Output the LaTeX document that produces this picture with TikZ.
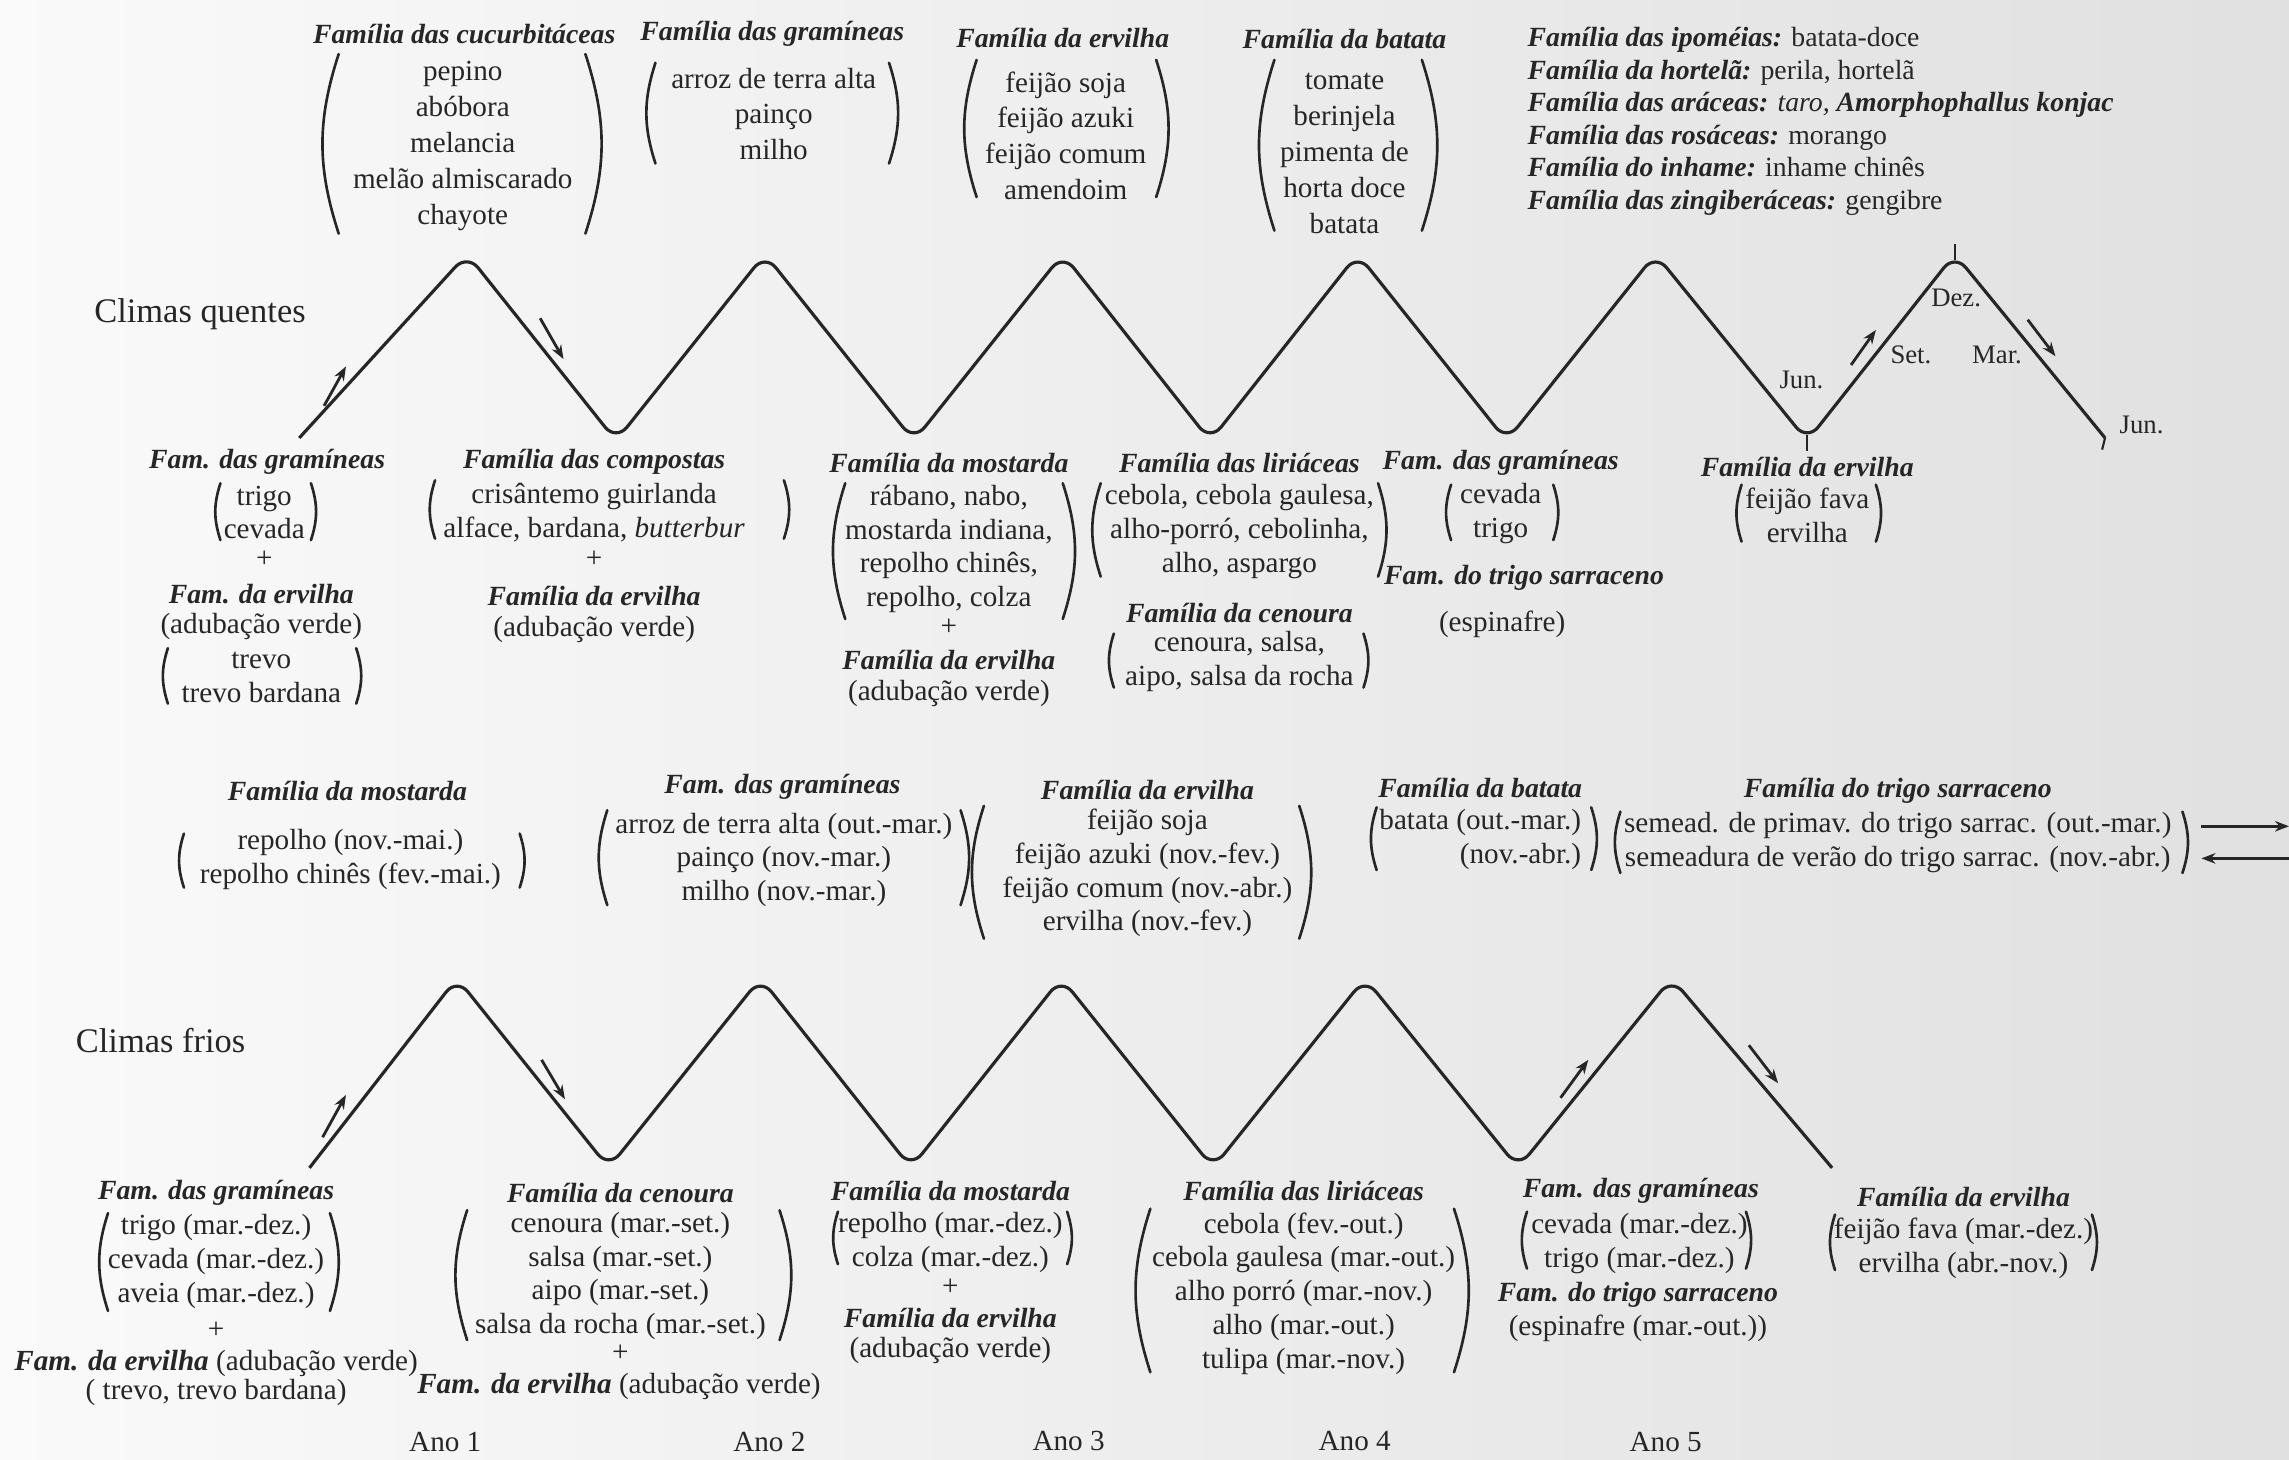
\documentclass[tikz,border=0pt]{standalone}
\usepackage{fontspec}
\setmainfont{Liberation Serif}
\usetikzlibrary{arrows.meta}
\definecolor{ink}{RGB}{38,38,38}
\newcommand{\famname}[1]{\textbf{\textit{#1}}}
% a pair of tall parentheses: x left, x right, y top, y bottom
\newcommand{\parpair}[4]{%
  \draw[par] (#1,#3) to[bend right=18] (#1,#4);
  \draw[par] (#2,#3) to[bend left=18] (#2,#4);}
\tikzset{
  fam/.style={font=\fontsize{7.9}{9.6}\selectfont\bfseries\itshape,inner sep=0pt,text=ink},
  lst/.style={font=\fontsize{8.3}{9.6}\selectfont,align=center,inner sep=0pt,text=ink},
  tall/.style={font=\fontsize{8.3}{10.2}\selectfont},
  clim/.style={font=\fontsize{9.8}{11}\selectfont,inner sep=0pt,text=ink},
  mon/.style={font=\fontsize{7.6}{9}\selectfont,inner sep=0pt,text=ink},
  wave/.style={draw=ink,line width=0.9pt,rounded corners=5pt,line join=round},
  par/.style={draw=ink,line width=0.75pt,line cap=round},
  flow/.style={draw=ink,line width=0.8pt,-{Stealth[length=4pt,width=3pt]}},
  tick/.style={draw=ink,line width=0.6pt}
}
\begin{document}
\begin{tikzpicture}[x=0.146mm,y=-0.146mm]
\useasboundingbox (0,0) rectangle (1568,1000);
\shade[left color=black!2,right color=black!12] (0,0) rectangle (1568,1000);

% warm climates: summer crops
\node[fam] (cucH) at (318,23) {Família das cucurbitáceas};
\node[lst,tall] (cucL) at (317,100) {pepino\\abóbora\\melancia\\melão almiscarado\\chayote};
\parpair{232}{401}{37}{160}
\node[fam] (graH) at (529,23) {Família das gramíneas};
\node[lst,tall] (graL) at (530,78) {arroz de terra alta\\painço\\milho};
\parpair{449}{609}{43}{112}
\node[fam] (ervH) at (728,26) {Família da ervilha};
\node[lst,tall] (ervL) at (730,93) {feijão soja\\feijão azuki\\feijão comum\\amendoim};
\parpair{669}{792}{41}{135}
\node[fam] (batH) at (921,27) {Família da batata};
\node[lst,tall] (batL) at (921,105) {tomate\\berinjela\\pimenta de\\horta doce\\batata};
\parpair{873}{974}{41}{158}
\node[lst,align=left,anchor=west,font=\fontsize{7.9}{9.25}\selectfont] (outL) at (1046,83)
  {\famname{Família das ipoméias:} batata-doce\\
   \famname{Família da hortelã:} perila, hortelã\\
   \famname{Família das aráceas:} \textit{taro,} \famname{Amorphophallus konjac}\\
   \famname{Família das rosáceas:} morango\\
   \famname{Família do inhame:} inhame chinês\\
   \famname{Família das zingiberáceas:} gengibre};

\node[clim] (quente) at (137,215) {Climas quentes};
\draw[wave] (205,300) -- (320,174) -- (422,302) -- (524,174) -- (626,302) -- (728,174)
  -- (829,302) -- (930,174) -- (1032,302) -- (1134,174) -- (1238,302) -- (1339,174) -- (1442,300);
\draw[tick] (1339,178) -- (1339,167);
\draw[tick] (1238,298) -- (1238,309);
\draw[tick] (1442,300) -- (1440,308);
\draw[flow] (222,278) -- (237,251);
\draw[flow] (370,218) -- (386,246);
\draw[flow] (1268,250) -- (1285,226);
\draw[flow] (1389,219) -- (1408,244);
\node[mon] (dez) at (1340,204) {Dez.};
\node[mon] (set) at (1309,243) {Set.};
\node[mon] (mar) at (1368,243) {Mar.};
\node[mon] (jun1) at (1234,260) {Jun.};
\node[mon] (jun2) at (1467,291) {Jun.};

% warm climates: winter crops
\node[fam] (gr1H) at (183,316) {Fam. das gramíneas};
\node[lst] (gr1L) at (181,351) {trigo\\cevada};
\parpair{151}{213}{331}{370}
\node[lst] (plus1) at (181,383) {+};
\node[fam] (gr1E) at (179,407) {Fam. da ervilha};
\node[lst] (gr1V) at (179,429) {(adubação verde)};
\node[lst] (gr1T) at (179,464) {trevo\\trevo bardana};
\parpair{115}{244}{444}{482}
\node[fam] (comH) at (407,316) {Família das compostas};
\node[lst] (comL) at (407,351) {crisântemo guirlanda\\alface, bardana, \textit{butterbur}};
\parpair{298}{537}{329}{369}
\node[lst] (plus2) at (407,383) {+};
\node[fam] (comE) at (407,408) {Família da ervilha};
\node[lst] (comV) at (407,431) {(adubação verde)};
\node[fam] (mosH) at (650,317) {Família da mostarda};
\node[lst] (mosL) at (650,376) {rábano, nabo,\\mostarda indiana,\\repolho chinês,\\repolho, colza};
\parpair{579}{728}{331}{424}
\node[lst] (plus3) at (650,430) {+};
\node[fam] (mosE) at (650,452) {Família da ervilha};
\node[lst] (mosV) at (650,475) {(adubação verde)};
\node[fam] (lirH) at (849,317) {Família das liriáceas};
\node[lst] (lirL) at (849,364) {cebola, cebola gaulesa,\\alho-porró, cebolinha,\\alho, aspargo};
\parpair{754}{944}{331}{395}
\node[fam] (cenH) at (849,420) {Família da cenoura};
\node[lst] (cenL) at (849,453) {cenoura, salsa,\\aipo, salsa da rocha};
\parpair{763}{934}{434}{471}
\node[fam] (gr2H) at (1028,317) {Fam. das gramíneas};
\node[lst] (gr2L) at (1028,352) {cevada\\trigo};
\parpair{994}{1064}{332}{370}
\node[fam] (tr2H) at (1044,396) {Fam. do trigo sarraceno};
\node[lst] (tr2L) at (1029,428) {(espinafre)};
\node[fam] (er2H) at (1238,320) {Família da ervilha};
\node[lst] (er2L) at (1238,353) {feijão fava\\ervilha};
\parpair{1193}{1285}{332}{371}

% cold climates: winter crops
\node[fam] (mo2H) at (238,542) {Família da mostarda};
\node[lst] (mo2L) at (240,589) {repolho (nov.-mai.)\\repolho chinês (fev.-mai.)};
\parpair{126}{356}{571}{608}
\node[fam] (gr3H) at (536,539) {Fam. das gramíneas};
\node[lst] (gr3L) at (537,589) {arroz de terra alta (out.-mar.)\\painço (nov.-mar.)\\milho (nov.-mar.)};
\parpair{416}{658}{555}{620}
\node[fam] (er3H) at (786,541) {Família da ervilha};
\node[lst] (er3L) at (786,598) {feijão soja\\feijão azuki (nov.-fev.)\\feijão comum (nov.-abr.)\\ervilha (nov.-fev.)};
\parpair{674}{890}{552}{643}
\node[fam] (ba2H) at (1014,540) {Família da batata};
\node[lst,align=right] (ba2L) at (1014,575) {batata (out.-mar.)\\(nov.-abr.)};
\parpair{943}{1090}{553}{596}
\node[fam] (tr3H) at (1300,542) {Família do trigo sarraceno};
\node[lst] (tr3L) at (1300,577) {semead. de primav. do trigo sarrac. (out.-mar.)\\semeadura de verão do trigo sarrac. (nov.-abr.)};
\parpair{1110}{1495}{556}{598}
\coordinate (inA) at (1508,566);
\coordinate (inB) at (1568,566);
\coordinate (outA) at (1568,588);
\coordinate (outB) at (1508,588);
\draw[flow] (inA) -- (inB);
\draw[flow] (outA) -- (outB);

% cold climates: summer crops
\node[clim] (frio) at (110,713) {Climas frios};
\draw[wave] (212,800) -- (313,670) -- (417,800) -- (521,670) -- (624,800) -- (727,670)
  -- (831,800) -- (935,670) -- (1040,800) -- (1145,670) -- (1255,800);
\draw[flow] (221,779) -- (237,750);
\draw[flow] (371,726) -- (387,753);
\draw[flow] (1069,752) -- (1088,726);
\draw[flow] (1198,716) -- (1218,742);

\node[fam] (gr4H) at (148,817) {Fam. das gramíneas};
\node[lst] (gr4L) at (148,864) {trigo (mar.-dez.)\\cevada (mar.-dez.)\\aveia (mar.-dez.)};
\parpair{74}{226}{831}{898}
\node[lst] (plus4) at (148,911) {+};
\node[lst] (gr4E) at (148,934) {\famname{Fam. da ervilha} (adubação verde)};
\node[lst] (gr4T) at (148,954) {( trevo, trevo bardana)};
\node[fam] (ce2H) at (425,817) {Família da cenoura};
\node[lst] (ce2L) at (425,874) {cenoura (mar.-set.)\\salsa (mar.-set.)\\aipo (mar.-set.)\\salsa da rocha (mar.-set.)};
\parpair{320}{534}{829}{918}
\node[lst] (plus5) at (425,927) {+};
\node[lst] (ce2E) at (424,950) {\famname{Fam. da ervilha} (adubação verde)};
\node[fam] (mo3H) at (651,816) {Família da mostarda};
\node[lst] (mo3L) at (651,851) {repolho (mar.-dez.)\\colza (mar.-dez.)};
\parpair{574}{731}{830}{866}
\node[lst] (plus6) at (651,882) {+};
\node[fam] (mo3E) at (651,903) {Família da ervilha};
\node[lst] (mo3V) at (651,925) {(adubação verde)};
\node[fam] (li2H) at (893,816) {Família das liriáceas};
\node[lst] (li2L) at (893,886) {cebola (fev.-out.)\\cebola gaulesa (mar.-out.)\\alho porró (mar.-nov.)\\alho (mar.-out.)\\tulipa (mar.-nov.)};
\parpair{788}{996}{828}{940}
\node[fam] (gr5H) at (1124,816) {Fam. das gramíneas};
\node[lst] (gr5L) at (1123,852) {cevada (mar.-dez.)\\trigo (mar.-dez.)};
\parpair{1046}{1196}{830}{869}
\node[fam] (tr5H) at (1122,887) {Fam. do trigo sarraceno};
\node[lst] (tr5L) at (1122,910) {(espinafre (mar.-out.))};
\node[fam] (er5H) at (1345,820) {Família da ervilha};
\node[lst] (er5L) at (1345,855) {feijão fava (mar.-dez.)\\ervilha (abr.-nov.)};
\parpair{1257}{1433}{832}{870}

% years
\node[lst] (ano1) at (305,988) {Ano 1};
\node[lst] (ano2) at (527,988) {Ano 2};
\node[lst] (ano3) at (732,987) {Ano 3};
\node[lst] (ano4) at (928,987) {Ano 4};
\node[lst] (ano5) at (1141,988) {Ano 5};
\end{tikzpicture}
\end{document}
